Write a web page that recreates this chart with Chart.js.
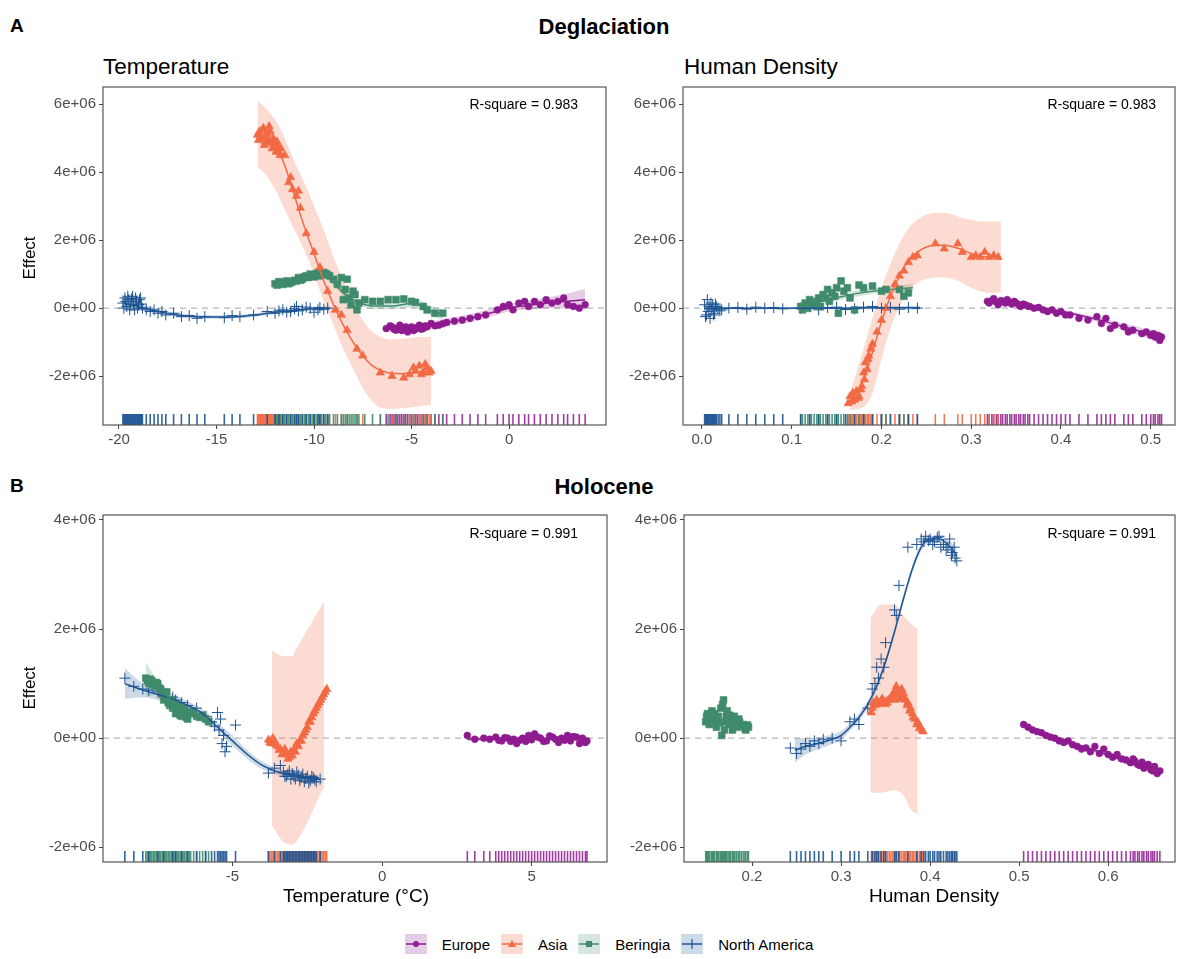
<!DOCTYPE html>
<html>
<head>
<meta charset="utf-8">
<script src="https://cdn.jsdelivr.net/npm/chart.js@4/dist/chart.umd.min.js"></script>
<style>
  body { margin: 0; background: #fff; font-family: "Liberation Sans", Arial, sans-serif; }
  #wrap { position: relative; width: 1179px; height: 959px; }
  canvas { position: absolute; }
  .t { position: absolute; white-space: nowrap; color: #000; }
  .tag { font-weight: bold; font-size: 19px; }
  .head { font-weight: bold; font-size: 22px; transform: translate(-50%, -50%); }
  .sub { font-size: 22.5px; transform: translateY(-50%); }
  .rsq { font-size: 14px; transform: translate(-100%, -50%); }
  .xt { font-size: 19px; transform: translate(-50%, -50%); color: #000; }
  .yt { font-size: 17px; transform: translate(-50%, -50%) rotate(-90deg); }
  #legend { position: absolute; top: 934px; left: 0; width: 1218px; display: flex; justify-content: center; align-items: center; font-size: 15px; }
  #legend .item { display: flex; align-items: center; margin: 0 5.5px; }
  #legend svg { margin-right: 15px; }
</style>
</head>
<body>
<div id="wrap">
  <div class="t tag" style="left:10px; top:15px;">A</div>
  <div class="t head" style="left:604px; top:27px;">Deglaciation</div>
  <div class="t sub" style="left:103px; top:67px;">Temperature</div>
  <div class="t sub" style="left:684px; top:67px;">Human Density</div>
  <div class="t tag" style="left:10px; top:475px;">B</div>
  <div class="t head" style="left:604px; top:487px;">Holocene</div>

  <canvas id="c1" width="574" height="363" style="left:33px; top:86px;"></canvas>
  <canvas id="c2" width="563" height="363" style="left:613px; top:86px;"></canvas>
  <canvas id="c3" width="575" height="372" style="left:33px; top:514px;"></canvas>
  <canvas id="c4" width="562" height="372" style="left:614px; top:514px;"></canvas>

  <div class="t rsq" style="left:578px; top:104px;">R-square = 0.983</div>
  <div class="t rsq" style="left:1156px; top:104px;">R-square = 0.983</div>
  <div class="t rsq" style="left:578px; top:533px;">R-square = 0.991</div>
  <div class="t rsq" style="left:1156px; top:533px;">R-square = 0.991</div>

  <div class="t yt" style="left:30px; top:258px;">Effect</div>
  <div class="t yt" style="left:30px; top:688px;">Effect</div>
  <div class="t xt" style="left:356px; top:896px;">Temperature (°C)</div>
  <div class="t xt" style="left:934px; top:896px;">Human Density</div>

  <div id="legend"></div>
</div>

<script>
// ---- data (effects in units of 1e6) ----
// points are [x, effect]; fits are [x, fit, lower, upper]

// A: Deglaciation / Temperature
const p1NaPts = [[-19.8,0.15],[-19.75,0.0],[-19.7,0.3],[-19.65,0.2],[-19.6,0.05],[-19.55,0.35],[-19.5,0.25],[-19.45,-0.05],[-19.4,0.1],[-19.35,0.28],[-19.3,0.35],[-19.25,0.15],[-19.2,-0.05],[-19.15,0.3],[-19.1,0.2],[-19.05,0.0],[-19.0,0.1],[-18.95,0.25],[-18.9,0.3],[-18.85,0.12],[-18.8,0.0],[-18.6,-0.05],[-18.4,-0.1],[-18.2,-0.05],[-18.0,-0.15],[-17.8,-0.1],[-17.6,-0.2],[-17.2,-0.15],[-16.8,-0.25],[-16.4,-0.22],[-16.0,-0.3],[-15.6,-0.25],[-14.6,-0.28],[-14.2,-0.22],[-13.8,-0.25],[-13.1,-0.2],[-12.4,-0.1],[-12.0,-0.15],[-11.8,-0.08],[-11.6,-0.05],[-11.4,-0.12],[-11.2,-0.1],[-11.0,-0.02],[-10.9,0.05],[-10.8,-0.08],[-10.6,-0.05],[-10.4,0.03],[-10.2,0.0],[-10.0,-0.12],[-9.8,-0.05],[-9.7,0.02],[-9.5,-0.03],[-9.3,0.0]];
const p1NaFit = [[-19.8,0.15,0.0,0.3],[-19.0,0.05,-0.05,0.15],[-18.0,-0.1,-0.17,-0.03],[-17.0,-0.2,-0.26,-0.14],[-16.0,-0.25,-0.3,-0.2],[-15.0,-0.26,-0.31,-0.21],[-14.0,-0.25,-0.3,-0.2],[-13.0,-0.2,-0.25,-0.15],[-12.0,-0.12,-0.17,-0.07],[-11.0,-0.06,-0.1,-0.02],[-10.0,-0.02,-0.06,0.02],[-9.2,0.0,-0.06,0.06]];
const p1AsPts = [[-12.9,5.1],[-12.85,4.95],[-12.8,5.2],[-12.75,5.05],[-12.7,5.0],[-12.65,5.25],[-12.6,5.3],[-12.55,4.8],[-12.5,4.9],[-12.45,5.1],[-12.4,5.15],[-12.35,4.95],[-12.3,5.35],[-12.25,5.2],[-12.2,4.85],[-12.15,4.7],[-12.1,5.0],[-12.05,4.85],[-12.0,4.75],[-11.95,4.6],[-11.9,4.9],[-11.85,4.75],[-11.8,4.6],[-11.75,4.5],[-11.7,4.7],[-11.5,4.5],[-11.3,3.7],[-11.2,3.85],[-11.1,3.5],[-10.9,3.3],[-10.8,3.45],[-10.7,2.95],[-10.4,2.2],[-10.0,1.65],[-9.7,1.2],[-9.3,0.5],[-8.9,-0.05],[-8.6,-0.2],[-8.3,-0.65],[-7.8,-1.2],[-7.5,-1.4],[-6.6,-1.9],[-6.0,-2.0],[-5.4,-2.05],[-5.1,-1.95],[-4.9,-1.75],[-4.8,-1.85],[-4.6,-1.7],[-4.5,-1.95],[-4.4,-1.9],[-4.3,-1.65],[-4.2,-1.75],[-4.1,-1.9],[-4.0,-1.85]];
const p1AsFit = [[-12.9,5.1,4.15,6.1],[-12.5,5.0,3.95,5.9],[-12.0,4.8,3.5,5.55],[-11.5,4.2,2.9,5.0],[-11.0,3.3,2.3,4.3],[-10.5,2.4,1.7,3.7],[-10.0,1.6,1.0,3.0],[-9.5,0.8,0.2,2.3],[-9.0,0.1,-0.5,1.5],[-8.5,-0.5,-1.2,0.8],[-8.0,-1.0,-1.8,0.15],[-7.5,-1.4,-2.35,-0.35],[-7.0,-1.7,-2.75,-0.7],[-6.5,-1.85,-2.95,-0.87],[-6.0,-1.92,-2.97,-0.92],[-5.5,-1.93,-2.95,-0.9],[-5.0,-1.9,-2.92,-0.87],[-4.5,-1.87,-2.88,-0.85],[-4.0,-1.85,-2.85,-0.84]];
const p1BePts = [[-12.0,0.72],[-11.9,0.68],[-11.8,0.78],[-11.7,0.74],[-11.6,0.7],[-11.5,0.76],[-11.4,0.8],[-11.3,0.72],[-11.2,0.75],[-11.1,0.78],[-11.0,0.82],[-10.9,0.8],[-10.8,0.9],[-10.7,0.82],[-10.6,0.85],[-10.5,0.92],[-10.4,0.95],[-10.3,0.9],[-10.2,1.0],[-10.1,0.96],[-10.0,0.92],[-9.9,1.0],[-9.8,1.05],[-9.7,0.95],[-9.6,0.98],[-9.5,1.05],[-9.4,1.02],[-9.3,0.98],[-9.2,0.95],[-9.0,0.85],[-8.8,0.7],[-8.6,0.9],[-8.5,0.25],[-8.4,0.55],[-8.3,0.85],[-8.2,0.3],[-8.1,0.1],[-8.0,0.5],[-7.9,0.4],[-7.8,-0.05],[-7.7,0.15],[-7.4,0.25],[-7.0,0.2],[-6.6,0.2],[-6.2,0.25],[-5.8,0.25],[-5.4,0.27],[-5.0,0.2],[-4.8,0.17],[-4.4,0.05],[-4.2,-0.05],[-3.8,-0.15],[-3.4,-0.15]];
const p1BeFit = [[-12.0,0.72,0.62,0.82],[-11.0,0.82,0.74,0.9],[-10.0,0.97,0.89,1.05],[-9.5,0.96,0.88,1.04],[-9.0,0.75,0.66,0.84],[-8.5,0.45,0.36,0.54],[-8.0,0.25,0.16,0.34],[-7.5,0.12,0.03,0.21],[-7.0,0.06,-0.03,0.15],[-6.0,0.06,-0.03,0.15],[-5.0,0.14,0.02,0.26],[-4.5,0.08,-0.05,0.21],[-4.0,-0.08,-0.22,0.06],[-3.4,-0.18,-0.34,-0.02]];
const p1EuPts = [[-6.3,-0.6],[-6.1,-0.52],[-6.0,-0.55],[-5.9,-0.62],[-5.8,-0.65],[-5.7,-0.58],[-5.6,-0.5],[-5.5,-0.66],[-5.4,-0.6],[-5.3,-0.55],[-5.2,-0.7],[-5.1,-0.6],[-5.0,-0.55],[-4.9,-0.66],[-4.8,-0.62],[-4.7,-0.56],[-4.6,-0.5],[-4.5,-0.62],[-4.4,-0.6],[-4.3,-0.52],[-4.2,-0.55],[-4.0,-0.45],[-3.8,-0.52],[-3.6,-0.5],[-3.4,-0.46],[-3.2,-0.42],[-2.8,-0.38],[-2.4,-0.35],[-2.0,-0.3],[-1.6,-0.25],[-1.2,-0.2],[-0.6,-0.05],[-0.3,0.05],[0.0,0.1],[0.2,-0.05],[0.5,0.15],[0.8,0.2],[1.0,0.05],[1.3,0.2],[1.6,0.1],[1.9,0.25],[2.2,0.15],[2.5,0.2],[2.8,0.3],[3.0,0.1],[3.3,0.05],[3.6,0.0],[3.9,0.1]];
const p1EuFit = [[-6.3,-0.6,-0.7,-0.5],[-5.0,-0.6,-0.68,-0.52],[-4.0,-0.5,-0.62,-0.38],[-3.0,-0.4,-0.52,-0.28],[-2.0,-0.3,-0.42,-0.17],[-1.0,-0.15,-0.27,-0.03],[0.0,0.0,-0.1,0.12],[1.0,0.08,-0.04,0.22],[2.0,0.15,0.0,0.32],[3.0,0.2,-0.02,0.43],[3.9,0.25,-0.05,0.56]];

// A: Deglaciation / Human density
const p2NaPts = [[0.003,0.1],[0.004,-0.25],[0.005,-0.2],[0.006,0.25],[0.007,-0.1],[0.008,0.05],[0.009,-0.3],[0.01,0.15],[0.011,-0.05],[0.012,0.1],[0.013,-0.2],[0.014,-0.15],[0.015,0.12],[0.016,0.05],[0.018,0.0],[0.02,-0.08],[0.022,-0.05],[0.03,0.0],[0.04,0.02],[0.05,-0.03],[0.06,0.03],[0.07,0.0],[0.08,0.02],[0.09,-0.02],[0.11,0.0],[0.12,0.04],[0.13,-0.05],[0.14,0.02],[0.15,0.03],[0.16,-0.04],[0.17,-0.02],[0.18,0.03],[0.19,0.05],[0.2,0.0],[0.21,0.02],[0.22,-0.03],[0.23,0.02],[0.24,0.0]];
const p2NaFit = [[0.003,0.0,-0.12,0.12],[0.02,0.0,-0.05,0.05],[0.05,0.0,-0.03,0.03],[0.1,0.0,-0.03,0.03],[0.15,0.0,-0.03,0.03],[0.2,0.01,-0.03,0.05],[0.243,0.01,-0.05,0.07]];
const p2BePts = [[0.11,0.05],[0.112,-0.05],[0.115,0.15],[0.118,0.0],[0.12,0.25],[0.122,0.1],[0.125,0.1],[0.128,0.2],[0.13,0.3],[0.132,0.05],[0.135,0.4],[0.138,0.3],[0.14,0.55],[0.142,0.2],[0.145,0.45],[0.148,0.35],[0.15,0.6],[0.152,-0.15],[0.155,0.8],[0.158,0.5],[0.162,0.6],[0.165,0.3],[0.17,-0.05],[0.175,0.68],[0.18,0.6],[0.19,0.65],[0.2,0.5],[0.205,0.55],[0.22,0.55],[0.225,0.35],[0.23,0.45]];
const p2BeFit = [[0.11,0.05,-0.05,0.15],[0.13,0.18,0.1,0.26],[0.15,0.3,0.22,0.38],[0.17,0.42,0.33,0.51],[0.19,0.5,0.42,0.58],[0.21,0.55,0.46,0.64],[0.235,0.6,0.48,0.72]];
const p2AsPts = [[0.163,-2.8],[0.165,-2.6],[0.167,-2.75],[0.168,-2.5],[0.17,-2.7],[0.172,-2.45],[0.174,-2.65],[0.175,-2.6],[0.177,-2.4],[0.178,-2.3],[0.18,-1.9],[0.181,-2.1],[0.182,-1.6],[0.184,-1.8],[0.185,-1.5],[0.186,-1.4],[0.188,-1.2],[0.19,-1.05],[0.195,-0.7],[0.2,-0.35],[0.205,0.0],[0.21,0.35],[0.215,0.7],[0.22,0.95],[0.225,1.1],[0.23,1.35],[0.235,1.5],[0.24,1.55],[0.26,1.9],[0.27,1.75],[0.285,1.9],[0.29,1.65],[0.3,1.5],[0.305,1.55],[0.31,1.5],[0.315,1.65],[0.32,1.5],[0.325,1.55],[0.33,1.5]];
const p2AsFit = [[0.165,-2.75,-3.0,-2.5],[0.18,-2.1,-2.9,-1.2],[0.19,-1.3,-2.5,-0.3],[0.2,-0.4,-1.5,0.6],[0.21,0.35,-0.6,1.3],[0.22,0.95,0.05,1.9],[0.23,1.4,0.45,2.35],[0.24,1.65,0.75,2.6],[0.25,1.8,0.85,2.75],[0.26,1.85,0.9,2.8],[0.27,1.85,0.9,2.8],[0.28,1.8,0.85,2.75],[0.29,1.72,0.75,2.65],[0.3,1.6,0.6,2.6],[0.31,1.53,0.5,2.55],[0.32,1.5,0.45,2.55],[0.333,1.5,0.45,2.55]];
const p2EuPts = [[0.318,0.2],[0.32,0.15],[0.323,0.22],[0.325,0.28],[0.328,0.18],[0.33,0.1],[0.333,0.22],[0.335,0.2],[0.338,0.15],[0.34,0.25],[0.343,0.18],[0.345,0.12],[0.348,0.2],[0.35,0.15],[0.353,0.1],[0.355,0.05],[0.358,0.12],[0.36,0.1],[0.363,0.06],[0.365,0.05],[0.37,0.0],[0.375,0.02],[0.38,-0.05],[0.385,-0.1],[0.39,-0.05],[0.395,-0.15],[0.4,-0.1],[0.405,-0.2],[0.41,-0.2],[0.42,-0.3],[0.43,-0.35],[0.44,-0.25],[0.445,-0.45],[0.45,-0.3],[0.455,-0.6],[0.46,-0.5],[0.47,-0.55],[0.475,-0.7],[0.48,-0.65],[0.49,-0.75],[0.495,-0.7],[0.5,-0.8],[0.503,-0.75],[0.505,-0.85],[0.508,-0.8],[0.51,-0.95],[0.512,-0.85]];
const p2EuFit = [[0.318,0.2,0.14,0.26],[0.35,0.12,0.08,0.16],[0.38,0.0,-0.04,0.04],[0.41,-0.15,-0.2,-0.1],[0.44,-0.33,-0.4,-0.26],[0.47,-0.55,-0.65,-0.45],[0.5,-0.78,-0.92,-0.64],[0.512,-0.88,-1.05,-0.71]];

// B: Holocene / Temperature
const p3NaPts = [[-8.6,1.1],[-8.3,0.95],[-8.0,0.9],[-7.8,0.88],[-7.5,0.85],[-7.3,0.8],[-7.0,0.75],[-6.9,0.7],[-6.7,0.65],[-6.5,0.6],[-6.2,0.55],[-5.9,0.4],[-5.7,0.3],[-5.6,0.22],[-5.5,0.47],[-5.45,0.15],[-5.4,0.35],[-5.35,-0.1],[-5.3,0.05],[-5.25,-0.25],[-5.2,-0.15],[-4.9,0.24],[-3.8,-0.64],[-3.6,-0.55],[-3.4,-0.5],[-3.3,-0.62],[-3.25,-0.7],[-3.2,-0.7],[-3.15,-0.66],[-3.1,-0.6],[-3.05,-0.75],[-3.0,-0.65],[-2.95,-0.7],[-2.9,-0.75],[-2.85,-0.62],[-2.8,-0.68],[-2.75,-0.78],[-2.7,-0.72],[-2.65,-0.66],[-2.6,-0.8],[-2.55,-0.74],[-2.5,-0.7],[-2.45,-0.82],[-2.4,-0.78],[-2.35,-0.7],[-2.3,-0.72],[-2.25,-0.76],[-2.2,-0.8],[-2.07,-0.75]];
const p3NaFit = [[-8.6,1.0,0.72,1.28],[-8.0,0.88,0.75,1.0],[-7.5,0.8,0.7,0.9],[-7.0,0.72,0.63,0.8],[-6.5,0.6,0.52,0.68],[-6.0,0.45,0.38,0.52],[-5.5,0.2,0.12,0.28],[-5.0,-0.05,-0.14,0.05],[-4.5,-0.3,-0.38,-0.22],[-4.0,-0.5,-0.57,-0.43],[-3.5,-0.62,-0.68,-0.56],[-3.0,-0.68,-0.73,-0.63],[-2.5,-0.72,-0.78,-0.66],[-2.1,-0.75,-0.82,-0.68]];
const p3BePts = [[-7.9,1.1],[-7.85,1.05],[-7.8,1.0],[-7.75,1.08],[-7.7,1.05],[-7.65,0.98],[-7.6,0.95],[-7.55,1.02],[-7.5,1.0],[-7.45,0.92],[-7.4,0.9],[-7.35,0.8],[-7.3,0.7],[-7.25,0.78],[-7.2,0.85],[-7.15,0.65],[-7.1,0.6],[-7.05,0.7],[-7.0,0.55],[-6.95,0.62],[-6.9,0.45],[-6.85,0.5],[-6.8,0.6],[-6.75,0.42],[-6.7,0.4],[-6.65,0.55],[-6.6,0.5],[-6.55,0.38],[-6.5,0.35],[-6.45,0.48],[-6.4,0.45],[-6.3,0.5],[-6.2,0.4],[-6.1,0.38],[-6.0,0.42],[-5.9,0.35],[-5.8,0.3]];
const p3BeFit = [[-7.9,1.05,0.75,1.4],[-7.5,0.92,0.8,1.05],[-7.0,0.68,0.58,0.78],[-6.5,0.5,0.42,0.58],[-6.0,0.4,0.3,0.5],[-5.8,0.35,0.2,0.5]];
const p3AsPts = [[-3.8,-0.03],[-3.75,-0.08],[-3.7,-0.1],[-3.65,0.0],[-3.6,-0.05],[-3.55,-0.12],[-3.5,-0.15],[-3.45,-0.22],[-3.4,-0.2],[-3.35,-0.3],[-3.3,-0.28],[-3.25,-0.2],[-3.2,-0.3],[-3.15,-0.38],[-3.1,-0.35],[-3.05,-0.25],[-3.0,-0.32],[-2.95,-0.22],[-2.9,-0.25],[-2.85,-0.1],[-2.8,-0.15],[-2.75,-0.05],[-2.7,-0.05],[-2.65,0.05],[-2.6,0.1],[-2.55,0.15],[-2.5,0.2],[-2.45,0.3],[-2.4,0.3],[-2.35,0.38],[-2.3,0.45],[-2.25,0.5],[-2.2,0.55],[-2.15,0.6],[-2.1,0.65],[-2.05,0.7],[-2.0,0.75],[-1.95,0.8],[-1.9,0.85],[-1.85,0.9]];
const p3AsFit = [[-3.68,-0.1,-1.6,1.6],[-3.3,-0.25,-1.9,1.5],[-3.0,-0.28,-1.95,1.5],[-2.9,-0.2,-1.92,1.6],[-2.5,0.2,-1.55,1.98],[-2.0,0.75,-0.95,2.45],[-1.94,0.8,-0.9,2.5]];
const p3EuPts = [[2.85,0.05],[3.1,-0.02],[3.4,0.0],[3.6,-0.02],[3.8,0.02],[3.9,-0.04],[4.0,-0.05],[4.1,0.01],[4.2,0.0],[4.3,-0.06],[4.4,-0.02],[4.5,-0.1],[4.6,-0.04],[4.7,0.0],[4.8,-0.06],[4.9,0.05],[5.0,-0.03],[5.1,0.08],[5.2,0.02],[5.3,0.0],[5.4,-0.06],[5.5,-0.05],[5.6,0.04],[5.7,0.02],[5.8,-0.02],[5.9,-0.08],[6.0,0.0],[6.1,-0.04],[6.2,0.05],[6.3,-0.05],[6.4,0.03],[6.5,0.02],[6.6,-0.1],[6.7,0.0],[6.8,-0.08],[6.85,-0.05]];
const p3EuFit = [[2.85,-0.02,-0.06,0.03],[4.0,-0.02,-0.04,0.0],[5.0,-0.01,-0.03,0.01],[6.0,-0.02,-0.04,0.0],[6.85,-0.03,-0.07,0.01]];

// B: Holocene / Human density
const p4BePts = [[0.148,0.3],[0.149,0.4],[0.15,0.45],[0.151,0.35],[0.152,0.25],[0.154,0.4],[0.155,0.5],[0.156,0.3],[0.157,0.35],[0.158,0.45],[0.16,0.2],[0.161,0.3],[0.162,0.4],[0.164,0.28],[0.165,0.55],[0.166,0.05],[0.167,0.62],[0.168,0.7],[0.169,0.15],[0.17,0.3],[0.171,0.4],[0.172,0.5],[0.174,0.25],[0.175,0.42],[0.176,0.35],[0.178,0.15],[0.179,0.3],[0.18,0.4],[0.182,0.28],[0.183,0.2],[0.185,0.35],[0.186,0.3],[0.188,0.22],[0.19,0.25],[0.192,0.18],[0.193,0.15],[0.195,0.24],[0.196,0.2]];
const p4NaPts = [[0.243,-0.18],[0.25,-0.28],[0.255,-0.2],[0.26,-0.1],[0.265,-0.15],[0.27,-0.05],[0.275,-0.1],[0.28,-0.02],[0.29,0.0],[0.3,-0.05],[0.31,0.3],[0.315,0.35],[0.32,0.25],[0.33,0.55],[0.335,0.9],[0.338,1.0],[0.34,1.3],[0.342,1.1],[0.345,1.45],[0.348,1.3],[0.35,1.75],[0.36,2.35],[0.362,2.25],[0.365,2.8],[0.375,3.5],[0.385,3.55],[0.39,3.65],[0.393,3.6],[0.395,3.7],[0.398,3.62],[0.4,3.65],[0.403,3.55],[0.405,3.6],[0.408,3.68],[0.41,3.7],[0.412,3.5],[0.415,3.55],[0.418,3.45],[0.42,3.5],[0.422,3.65],[0.424,3.35],[0.425,3.4],[0.427,3.5],[0.428,3.3],[0.43,3.25]];
const p4NaFit = [[0.248,-0.22,-0.45,0.0],[0.26,-0.15,-0.3,0.0],[0.28,-0.07,-0.17,0.03],[0.3,0.05,-0.03,0.13],[0.31,0.2,0.13,0.27],[0.32,0.38,0.31,0.45],[0.33,0.62,0.55,0.69],[0.34,0.95,0.88,1.02],[0.35,1.4,1.33,1.47],[0.36,1.95,1.88,2.02],[0.37,2.55,2.48,2.62],[0.38,3.1,3.03,3.17],[0.39,3.5,3.43,3.57],[0.4,3.65,3.59,3.71],[0.41,3.65,3.59,3.71],[0.42,3.55,3.47,3.63],[0.43,3.35,3.22,3.48]];
const p4AsPts = [[0.334,0.47],[0.335,0.55],[0.336,0.65],[0.338,0.6],[0.34,0.7],[0.342,0.62],[0.344,0.65],[0.346,0.72],[0.348,0.68],[0.35,0.62],[0.352,0.65],[0.354,0.7],[0.356,0.75],[0.358,0.8],[0.36,0.85],[0.361,0.7],[0.362,0.95],[0.364,0.88],[0.365,0.8],[0.366,0.72],[0.368,0.9],[0.37,0.82],[0.371,0.75],[0.372,0.7],[0.374,0.6],[0.375,0.65],[0.377,0.5],[0.378,0.55],[0.38,0.45],[0.381,0.38],[0.383,0.35],[0.385,0.25],[0.386,0.3],[0.388,0.18],[0.389,0.2],[0.391,0.15],[0.392,0.12]];
const p4AsFit = [[0.333,0.55,-1.0,2.2],[0.345,0.68,-1.0,2.45],[0.36,0.8,-0.95,2.45],[0.37,0.7,-1.05,2.25],[0.378,0.5,-1.3,2.1],[0.386,0.25,-1.4,2.0]];
const p4EuPts = [[0.505,0.25],[0.51,0.2],[0.515,0.15],[0.52,0.12],[0.525,0.1],[0.53,0.05],[0.535,0.02],[0.54,0.0],[0.545,-0.05],[0.55,-0.08],[0.555,-0.05],[0.56,-0.12],[0.565,-0.15],[0.57,-0.2],[0.575,-0.18],[0.58,-0.25],[0.585,-0.15],[0.59,-0.28],[0.595,-0.2],[0.6,-0.3],[0.605,-0.35],[0.61,-0.3],[0.615,-0.38],[0.62,-0.4],[0.625,-0.45],[0.628,-0.38],[0.63,-0.42],[0.633,-0.48],[0.635,-0.5],[0.638,-0.44],[0.64,-0.55],[0.643,-0.5],[0.645,-0.48],[0.648,-0.58],[0.65,-0.6],[0.652,-0.52],[0.655,-0.65],[0.658,-0.6]];
const p4EuFit = [[0.505,0.22,0.17,0.27],[0.58,-0.2,-0.23,-0.17],[0.658,-0.64,-0.7,-0.58]];

// ticks
const degYTicks = [-2, 0, 2, 4, 6];
const holYTicks = [-2, 0, 2, 4];
const p1XTicks = [-20, -15, -10, -5, 0];
const p2XTicks = [0.0, 0.1, 0.2, 0.3, 0.4, 0.5];
const p3XTicks = [-5, 0, 5];
const p4XTicks = [0.2, 0.3, 0.4, 0.5, 0.6];

const regionNames = { eu: "Europe", as: "Asia", be: "Beringia", na: "North America" };
const COL = { eu: "#8E1B8F", as: "#F26A44", be: "#3F8B6B", na: "#1D5493" };
const RIB = { eu: "rgba(142,27,143,0.22)", as: "rgba(242,106,68,0.24)", be: "rgba(63,139,107,0.22)", na: "rgba(29,84,147,0.22)" };
const RUG = { eu: "rgba(142,27,143,0.85)", as: "rgba(242,106,68,0.9)", be: "rgba(63,139,107,0.9)", na: "rgba(29,84,147,0.9)" };
const SHAPE = {
    eu: { pointStyle: "circle", radius: 3.4 },
    as: { pointStyle: "triangle", radius: 4.8 },
    be: { pointStyle: "rect", radius: 4.8 },
    na: { pointStyle: "cross", radius: 5.5 },
};
const FONT = '"Liberation Sans", Arial, sans-serif';

function buildDatasets(series) {
    const ds = [];
    series.forEach((s) => {
        if (!s.fit) return;
        ds.push({
            type: "line", order: 30, showLine: true, pointRadius: 0, borderWidth: 0,
            borderColor: "rgba(0,0,0,0)", fill: false, cubicInterpolationMode: "monotone",
            data: s.fit.map((r) => ({ x: r[0], y: r[2] })),
        });
        ds.push({
            type: "line", order: 30, showLine: true, pointRadius: 0, borderWidth: 0,
            borderColor: "rgba(0,0,0,0)", fill: "-1", backgroundColor: RIB[s.key],
            cubicInterpolationMode: "monotone",
            data: s.fit.map((r) => ({ x: r[0], y: r[3] })),
        });
    });
    series.forEach((s) => {
        ds.push({
            type: "scatter", order: 20, showLine: false,
            pointStyle: SHAPE[s.key].pointStyle, pointRadius: SHAPE[s.key].radius,
            borderWidth: s.key === "na" ? 1 : 0.6,
            backgroundColor: COL[s.key], borderColor: COL[s.key],
            data: s.pts.map((r) => ({ x: r[0], y: r[1] })),
        });
    });
    series.forEach((s) => {
        if (!s.fit) return;
        ds.push({
            type: "line", order: 10, showLine: true, pointRadius: 0, borderWidth: 1.5,
            borderColor: COL[s.key], fill: false, cubicInterpolationMode: "monotone",
            data: s.fit.map((r) => ({ x: r[0], y: r[1] })),
        });
    });
    return ds;
}

function decorPlugin(series) {
    return {
        id: "decor",
        beforeDatasetsDraw(chart) {
            const { ctx, chartArea: a, scales } = chart;
            const y0 = scales.y.getPixelForValue(0);
            ctx.save();
            ctx.strokeStyle = "#b5b5b5";
            ctx.lineWidth = 1.3;
            ctx.setLineDash([6, 5]);
            ctx.beginPath();
            ctx.moveTo(a.left, y0);
            ctx.lineTo(a.right, y0);
            ctx.stroke();
            ctx.restore();
        },
        afterDatasetsDraw(chart) {
            const { ctx, chartArea: a, scales } = chart;
            ctx.save();
            ctx.lineWidth = 1.6;
            series.forEach((s) => {
                ctx.strokeStyle = RUG[s.key];
                s.pts.forEach((r) => {
                    const px = scales.x.getPixelForValue(r[0]);
                    ctx.beginPath();
                    ctx.moveTo(px, a.bottom);
                    ctx.lineTo(px, a.bottom - 11);
                    ctx.stroke();
                });
            });
            ctx.restore();
        },
        afterDraw(chart) {
            const { ctx, chartArea: a } = chart;
            ctx.save();
            ctx.strokeStyle = "#555";
            ctx.lineWidth = 1.2;
            ctx.strokeRect(a.left, a.top, a.right - a.left, a.bottom - a.top);
            ctx.restore();
        },
    };
}

function makeChart(id, series, xr, yr, xTicks, yTicks, xFmt) {
    const axisGrid = { display: true, drawOnChartArea: false, drawTicks: true, tickLength: 4, color: "#444" };
    const tickFont = { family: FONT, size: 15 };
    return new Chart(document.getElementById(id), {
        type: "scatter",
        data: { datasets: buildDatasets(series) },
        options: {
            responsive: false,
            animation: false,
            layout: { autoPadding: false, padding: { top: 1, right: 1, left: 0, bottom: 0 } },
            plugins: { legend: { display: false }, tooltip: { enabled: false } },
            scales: {
                x: {
                    type: "linear", min: xr[0], max: xr[1],
                    afterBuildTicks: (s) => { s.ticks = xTicks.map((v) => ({ value: v })); },
                    afterFit: (s) => { s.height = 24; s.paddingLeft = 0; s.paddingRight = 0; },
                    grid: axisGrid, border: { display: false },
                    ticks: { font: tickFont, color: "#4d4d4d", padding: 2, maxRotation: 0, autoSkip: false, callback: xFmt },
                },
                y: {
                    type: "linear", min: yr[0], max: yr[1],
                    afterBuildTicks: (s) => { s.ticks = yTicks.map((v) => ({ value: v })); },
                    afterFit: (s) => { s.width = 70; s.paddingTop = 0; s.paddingBottom = 0; },
                    grid: axisGrid, border: { display: false },
                    ticks: { font: tickFont, color: "#4d4d4d", padding: 3, autoSkip: false, callback: (v) => v + "e+0" + (v === 0 ? "0" : "6") },
                },
            },
        },
        plugins: [decorPlugin(series)],
    });
}

const intFmt = (v) => String(v);
const decFmt = (v) => v.toFixed(1);

makeChart("c1", [
    { key: "eu", pts: p1EuPts, fit: p1EuFit },
    { key: "as", pts: p1AsPts, fit: p1AsFit },
    { key: "be", pts: p1BePts, fit: p1BeFit },
    { key: "na", pts: p1NaPts, fit: p1NaFit },
], [-20.82, 4.97], [-3.44, 6.51], p1XTicks, degYTicks, intFmt);

makeChart("c2", [
    { key: "eu", pts: p2EuPts, fit: p2EuFit },
    { key: "as", pts: p2AsPts, fit: p2AsFit },
    { key: "be", pts: p2BePts, fit: p2BeFit },
    { key: "na", pts: p2NaPts, fit: p2NaFit },
], [-0.0211, 0.527], [-3.44, 6.51], p2XTicks, degYTicks, decFmt);

makeChart("c3", [
    { key: "eu", pts: p3EuPts, fit: p3EuFit },
    { key: "as", pts: p3AsPts, fit: p3AsFit },
    { key: "be", pts: p3BePts, fit: p3BeFit },
    { key: "na", pts: p3NaPts, fit: p3NaFit },
], [-9.33, 7.52], [-2.27, 4.09], p3XTicks, holYTicks, intFmt);

makeChart("c4", [
    { key: "eu", pts: p4EuPts, fit: p4EuFit },
    { key: "as", pts: p4AsPts, fit: p4AsFit },
    { key: "be", pts: p4BePts },
    { key: "na", pts: p4NaPts, fit: p4NaFit },
], [0.1236, 0.675], [-2.27, 4.09], p4XTicks, holYTicks, decFmt);

// legend
const markSvg = {
    eu: (c) => `<circle cx="11" cy="10" r="3" fill="${c}"/>`,
    as: (c) => `<polygon points="11,6 15,13 7,13" fill="${c}"/>`,
    be: (c) => `<rect x="8" y="7" width="6" height="6" fill="${c}"/>`,
    na: (c) => `<line x1="11" y1="5" x2="11" y2="15" stroke="${c}" stroke-width="1.2"/>`,
};
const legend = document.getElementById("legend");
["eu", "as", "be", "na"].forEach((k) => {
    const item = document.createElement("div");
    item.className = "item";
    item.innerHTML =
        `<svg width="22" height="20"><rect x="0" y="0" width="22" height="20" fill="${RIB[k]}"/>` +
        `<line x1="1" y1="10" x2="21" y2="10" stroke="${COL[k]}" stroke-width="1.5"/>` +
        markSvg[k](COL[k]) + `</svg><span>${regionNames[k]}</span>`;
    legend.appendChild(item);
});
</script>
</body>
</html>
